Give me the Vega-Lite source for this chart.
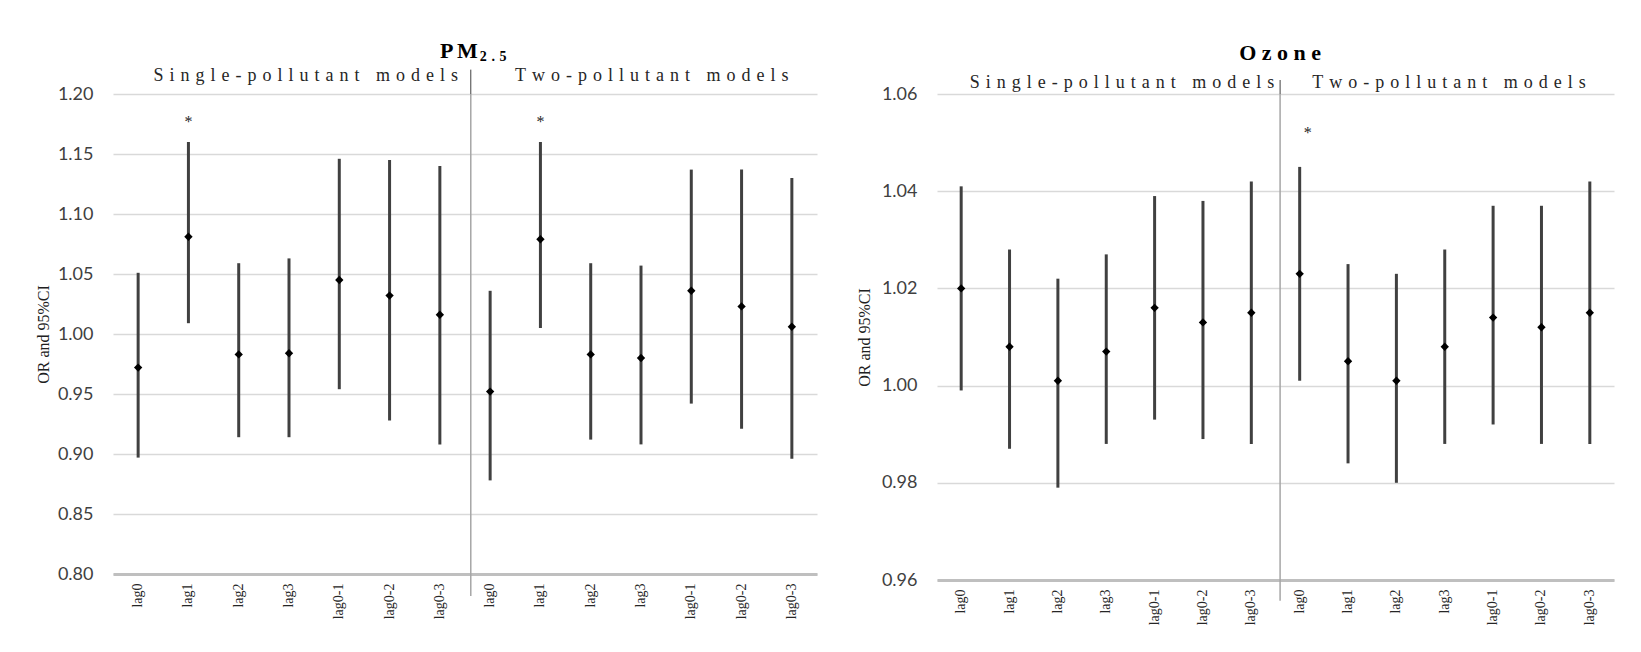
{
  "$schema": "https://vega.github.io/schema/vega-lite/v6.json",
  "background": "white",
  "padding": {"left": 35, "top": 39, "right": 5, "bottom": 5},
  "spacing": 39,
  "config": {
    "view": {"stroke": null},
    "axisY": {
      "grid": true, "gridColor": "#d9d9d9", "gridWidth": 1.5,
      "domain": false, "ticks": false,
      "labelFont": "Lato", "labelFontSize": 18, "labelColor": "#404040", "labelPadding": 20,
      "titleFont": "Liberation Serif", "titleFontSize": 16, "titleFontWeight": "normal", "titleColor": "#202020", "titlePadding": 6
    },
    "axisX": {
      "grid": false, "ticks": false, "domain": true, "domainColor": "#bfbfbf", "domainWidth": 3,
      "labelFont": "Liberation Serif", "labelFontSize": 14, "labelColor": "#262626", "labelAngle": -90, "labelPadding": 9,
      "title": null
    }
  },
  "datasets": {
    "pm": [
      {"cat": "S:lag0", "or": 0.972, "lo": 0.897, "hi": 1.051, "sig": false},
      {"cat": "S:lag1", "or": 1.081, "lo": 1.009, "hi": 1.160, "sig": true},
      {"cat": "S:lag2", "or": 0.983, "lo": 0.914, "hi": 1.059, "sig": false},
      {"cat": "S:lag3", "or": 0.984, "lo": 0.914, "hi": 1.063, "sig": false},
      {"cat": "S:lag0-1", "or": 1.045, "lo": 0.954, "hi": 1.146, "sig": false},
      {"cat": "S:lag0-2", "or": 1.032, "lo": 0.928, "hi": 1.145, "sig": false},
      {"cat": "S:lag0-3", "or": 1.016, "lo": 0.908, "hi": 1.140, "sig": false},
      {"cat": "T:lag0", "or": 0.952, "lo": 0.878, "hi": 1.036, "sig": false},
      {"cat": "T:lag1", "or": 1.079, "lo": 1.005, "hi": 1.160, "sig": true},
      {"cat": "T:lag2", "or": 0.983, "lo": 0.912, "hi": 1.059, "sig": false},
      {"cat": "T:lag3", "or": 0.980, "lo": 0.908, "hi": 1.057, "sig": false},
      {"cat": "T:lag0-1", "or": 1.036, "lo": 0.942, "hi": 1.137, "sig": false},
      {"cat": "T:lag0-2", "or": 1.023, "lo": 0.921, "hi": 1.137, "sig": false},
      {"cat": "T:lag0-3", "or": 1.006, "lo": 0.896, "hi": 1.130, "sig": false}
    ],
    "oz": [
      {"cat": "S:lag0", "or": 1.020, "lo": 0.999, "hi": 1.041, "sig": false},
      {"cat": "S:lag1", "or": 1.008, "lo": 0.987, "hi": 1.028, "sig": false},
      {"cat": "S:lag2", "or": 1.001, "lo": 0.979, "hi": 1.022, "sig": false},
      {"cat": "S:lag3", "or": 1.007, "lo": 0.988, "hi": 1.027, "sig": false},
      {"cat": "S:lag0-1", "or": 1.016, "lo": 0.993, "hi": 1.039, "sig": false},
      {"cat": "S:lag0-2", "or": 1.013, "lo": 0.989, "hi": 1.038, "sig": false},
      {"cat": "S:lag0-3", "or": 1.015, "lo": 0.988, "hi": 1.042, "sig": false},
      {"cat": "T:lag0", "or": 1.023, "lo": 1.001, "hi": 1.045, "sig": true},
      {"cat": "T:lag1", "or": 1.005, "lo": 0.984, "hi": 1.025, "sig": false},
      {"cat": "T:lag2", "or": 1.001, "lo": 0.980, "hi": 1.023, "sig": false},
      {"cat": "T:lag3", "or": 1.008, "lo": 0.988, "hi": 1.028, "sig": false},
      {"cat": "T:lag0-1", "or": 1.014, "lo": 0.992, "hi": 1.037, "sig": false},
      {"cat": "T:lag0-2", "or": 1.012, "lo": 0.988, "hi": 1.037, "sig": false},
      {"cat": "T:lag0-3", "or": 1.015, "lo": 0.988, "hi": 1.042, "sig": false}
    ]
  },
  "hconcat": [
    {
      "width": 704,
      "height": 480,
      "data": {"name": "pm"},
      "encoding": {
        "x": {
          "field": "cat", "type": "nominal",
          "scale": {"domain": ["S:lag0","S:lag1","S:lag2","S:lag3","S:lag0-1","S:lag0-2","S:lag0-3","T:lag0","T:lag1","T:lag2","T:lag3","T:lag0-1","T:lag0-2","T:lag0-3"], "paddingInner": 0, "paddingOuter": 0},
          "axis": {"labelExpr": "substring(datum.label, 2)"}
        }
      },
      "layer": [
        {
          "mark": {"type": "rule", "color": "#404040", "strokeWidth": 3},
          "encoding": {
            "y": {"field": "lo", "type": "quantitative", "title": "OR and 95%CI",
                  "scale": {"domain": [0.8, 1.2], "nice": false, "zero": false},
                  "axis": {"values": [0.8, 0.85, 0.9, 0.95, 1.0, 1.05, 1.1, 1.15, 1.2], "format": ".2f"}},
            "y2": {"field": "hi"}
          }
        },
        {
          "mark": {"type": "point", "shape": "diamond", "filled": true, "color": "#000000", "size": 70, "opacity": 1},
          "encoding": {"y": {"field": "or", "type": "quantitative", "title": "OR and 95%CI"}}
        },
        {
          "transform": [{"filter": "datum.sig"}],
          "mark": {"type": "text", "text": "*", "font": "Liberation Serif", "fontSize": 16, "color": "#262626", "baseline": "middle"},
          "encoding": {"y": {"datum": 1.177, "type": "quantitative", "title": "OR and 95%CI"}}
        },
        {
          "transform": [{"filter": "datum.cat == 'T:lag0'"}],
          "mark": {"type": "rule", "color": "#a6a6a6", "strokeWidth": 1.5},
          "encoding": {
            "x": {"field": "cat", "type": "nominal", "bandPosition": 0.115},
            "y": {"datum": 0.7816, "type": "quantitative", "title": "OR and 95%CI"},
            "y2": {"datum": 1.2}
          }
        },
        {
          "transform": [{"filter": "datum.cat == 'T:lag0'"}],
          "mark": {"type": "rule", "color": "#404040", "strokeWidth": 1},
          "encoding": {
            "x": {"field": "cat", "type": "nominal", "bandPosition": 0.115},
            "y": {"datum": 1.2, "type": "quantitative", "title": "OR and 95%CI"},
            "y2": {"datum": 1.2203}
          }
        },
        {
          "transform": [{"filter": "datum.cat == 'T:lag0'"}],
          "mark": {"type": "text", "text": "P\u2006M", "font": "Liberation Serif", "fontSize": 22, "fontWeight": "bold", "color": "#000000", "align": "right", "baseline": "alphabetic", "dx": 7},
          "encoding": {
            "x": {"field": "cat", "type": "nominal", "bandPosition": 0.115},
            "y": {"datum": 1.2303, "type": "quantitative", "title": "OR and 95%CI"}
          }
        },
        {
          "transform": [{"filter": "datum.cat == 'T:lag0'"}],
          "mark": {"type": "text", "text": "2\u2004.\u20045", "font": "Liberation Serif", "fontSize": 14, "fontWeight": "bold", "color": "#000000", "align": "left", "baseline": "alphabetic", "dx": 9},
          "encoding": {
            "x": {"field": "cat", "type": "nominal", "bandPosition": 0.115},
            "y": {"datum": 1.2278, "type": "quantitative", "title": "OR and 95%CI"}
          }
        },
        {
          "transform": [{"filter": "datum.cat == 'T:lag0'"}],
          "mark": {"type": "text", "text": "S\u2004i\u2004n\u2004g\u2004l\u2004e\u2004-\u2004p\u2004o\u2004l\u2004l\u2004u\u2004t\u2004a\u2004n\u2004t\u2004 \u2004m\u2004o\u2004d\u2004e\u2004l\u2004s", "font": "Liberation Serif", "fontSize": 18, "color": "#262626", "align": "center", "baseline": "alphabetic", "dx": -165},
          "encoding": {
            "x": {"field": "cat", "type": "nominal", "bandPosition": 0.115},
            "y": {"datum": 1.2105, "type": "quantitative", "title": "OR and 95%CI"}
          }
        },
        {
          "transform": [{"filter": "datum.cat == 'T:lag0'"}],
          "mark": {"type": "text", "text": "T\u2004w\u2004o\u2004-\u2004p\u2004o\u2004l\u2004l\u2004u\u2004t\u2004a\u2004n\u2004t\u2004 \u2004m\u2004o\u2004d\u2004e\u2004l\u2004s", "font": "Liberation Serif", "fontSize": 18, "color": "#262626", "align": "center", "baseline": "alphabetic", "dx": 181},
          "encoding": {
            "x": {"field": "cat", "type": "nominal", "bandPosition": 0.115},
            "y": {"datum": 1.2105, "type": "quantitative", "title": "OR and 95%CI"}
          }
        }
      ]
    },
    {
      "width": 677,
      "height": 486,
      "data": {"name": "oz"},
      "encoding": {
        "x": {
          "field": "cat", "type": "nominal",
          "scale": {"domain": ["S:lag0","S:lag1","S:lag2","S:lag3","S:lag0-1","S:lag0-2","S:lag0-3","T:lag0","T:lag1","T:lag2","T:lag3","T:lag0-1","T:lag0-2","T:lag0-3"], "paddingInner": 0, "paddingOuter": 0},
          "axis": {"labelExpr": "substring(datum.label, 2)"}
        }
      },
      "layer": [
        {
          "mark": {"type": "rule", "color": "#404040", "strokeWidth": 3},
          "encoding": {
            "y": {"field": "lo", "type": "quantitative", "title": "OR and 95%CI",
                  "scale": {"domain": [0.96, 1.06], "nice": false, "zero": false},
                  "axis": {"values": [0.96, 0.98, 1.0, 1.02, 1.04, 1.06], "format": ".2f", "titlePadding": 9}},
            "y2": {"field": "hi"}
          }
        },
        {
          "mark": {"type": "point", "shape": "diamond", "filled": true, "color": "#000000", "size": 70, "opacity": 1},
          "encoding": {"y": {"field": "or", "type": "quantitative", "title": "OR and 95%CI"}}
        },
        {
          "transform": [{"filter": "datum.sig"}],
          "mark": {"type": "text", "text": "*", "font": "Liberation Serif", "fontSize": 16, "color": "#262626", "baseline": "middle", "dx": 8},
          "encoding": {"y": {"datum": 1.052, "type": "quantitative", "title": "OR and 95%CI"}}
        },
        {
          "transform": [{"filter": "datum.cat == 'T:lag0'"}],
          "mark": {"type": "rule", "color": "#a6a6a6", "strokeWidth": 1.5},
          "encoding": {
            "x": {"field": "cat", "type": "nominal", "bandPosition": 0.095},
            "y": {"datum": 0.95574, "type": "quantitative", "title": "OR and 95%CI"},
            "y2": {"datum": 1.06}
          }
        },
        {
          "transform": [{"filter": "datum.cat == 'T:lag0'"}],
          "mark": {"type": "rule", "color": "#404040", "strokeWidth": 1},
          "encoding": {
            "x": {"field": "cat", "type": "nominal", "bandPosition": 0.095},
            "y": {"datum": 1.06, "type": "quantitative", "title": "OR and 95%CI"},
            "y2": {"datum": 1.06288}
          }
        },
        {
          "transform": [{"filter": "datum.cat == 'T:lag0'"}],
          "mark": {"type": "text", "text": "O\u2005z\u2005o\u2005n\u2005e", "font": "Liberation Serif", "fontSize": 22, "fontWeight": "bold", "color": "#000000", "align": "center", "baseline": "alphabetic", "dx": 0},
          "encoding": {
            "x": {"field": "cat", "type": "nominal", "bandPosition": 0.095},
            "y": {"datum": 1.06705, "type": "quantitative", "title": "OR and 95%CI"}
          }
        },
        {
          "transform": [{"filter": "datum.cat == 'T:lag0'"}],
          "mark": {"type": "text", "text": "S\u2004i\u2004n\u2004g\u2004l\u2004e\u2004-\u2004p\u2004o\u2004l\u2004l\u2004u\u2004t\u2004a\u2004n\u2004t\u2004 \u2004m\u2004o\u2004d\u2004e\u2004l\u2004s", "font": "Liberation Serif", "fontSize": 18, "color": "#262626", "align": "center", "baseline": "alphabetic", "dx": -158},
          "encoding": {
            "x": {"field": "cat", "type": "nominal", "bandPosition": 0.095},
            "y": {"datum": 1.06123, "type": "quantitative", "title": "OR and 95%CI"}
          }
        },
        {
          "transform": [{"filter": "datum.cat == 'T:lag0'"}],
          "mark": {"type": "text", "text": "T\u2004w\u2004o\u2004-\u2004p\u2004o\u2004l\u2004l\u2004u\u2004t\u2004a\u2004n\u2004t\u2004 \u2004m\u2004o\u2004d\u2004e\u2004l\u2004s", "font": "Liberation Serif", "fontSize": 18, "color": "#262626", "align": "center", "baseline": "alphabetic", "dx": 169},
          "encoding": {
            "x": {"field": "cat", "type": "nominal", "bandPosition": 0.095},
            "y": {"datum": 1.06123, "type": "quantitative", "title": "OR and 95%CI"}
          }
        }
      ]
    }
  ]
}
